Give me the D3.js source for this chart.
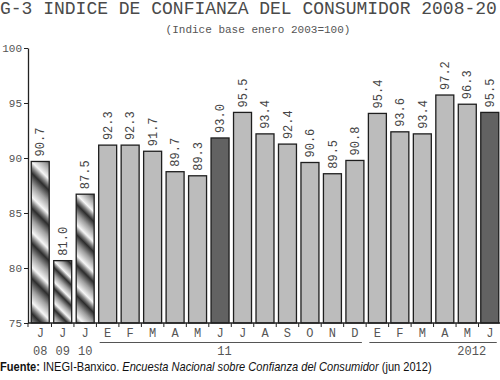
<!DOCTYPE html>
<html>
<head>
<meta charset="utf-8">
<script src="https://cdn.jsdelivr.net/npm/d3@7"></script>
<style>
  body { margin: 0; background: #fff; }
  svg { display: block; }
  .mono { font-family: "Liberation Mono", "DejaVu Sans Mono", monospace; }
  .fuente { font-family: "Liberation Sans Narrow", "Liberation Sans", sans-serif; font-size: 13px; fill: #111; }
</style>
</head>
<body>
<svg id="chart" width="500" height="380"></svg>
<script>
// meses y valores del indice
const meses = ["J", "J", "J", "E", "F", "M", "A", "M", "J", "J", "A", "S", "O", "N", "D", "E", "F", "M", "A", "M", "J"];
const indice = [90.7, 81.0, 87.5, 92.3, 92.3, 91.7, 89.7, 89.3, 93.0, 95.5, 93.4, 92.4, 90.6, 89.5, 90.8, 95.4, 93.6, 93.4, 97.2, 96.3, 95.5];
// tipo de barra: "rayas" para los junios 08-10, "junio" para los junios resaltados
const tipo = ["rayas", "rayas", "rayas", "n", "n", "n", "n", "n", "junio", "n", "n", "n", "n", "n", "n", "n", "n", "n", "n", "n", "junio"];
const anios = ["08", "09", "10", "11", "2012"];
const anioPos = [0, 1, 2, 8.2, 19.2];   // posicion (indice de barra) de cada etiqueta de año
const grupos = [[3, 14], [15, 20]];      // barras subrayadas de 2011 y 2012
const yTicks = [75, 80, 85, 90, 95, 100];

const svg = d3.select("#chart");
const width = 500;
const mTop = 48, mBottom = 323, mLeft = 28;

const x = d3.scaleBand()
    .domain(d3.range(meses.length))
    .range([mLeft + 1, width + 1])
    .paddingInner(0.2)
    .paddingOuter(0.1);

// escala del eje
const yAxisScale = d3.scaleLinear().domain([75, 100]).range([mBottom, mTop]);
// en el original las barras no coinciden con el eje, van en esta otra escala
const y = d3.scaleLinear().domain([74.9, 101.8]).range([mBottom, mTop]);

// titulo
svg.append("text")
    .attr("class", "mono")
    .attr("x", 0).attr("y", 14)
    .attr("font-size", 18)
    .attr("fill", "#4a4a4a")
    .text("G-3 INDICE DE CONFIANZA DEL CONSUMIDOR 2008-20");

svg.append("text")
    .attr("class", "mono")
    .attr("x", 258).attr("y", 33)
    .attr("text-anchor", "middle")
    .attr("font-size", 11)
    .attr("fill", "#555")
    .text("(Indice base enero 2003=100)");

// degradados de rayas diagonales
const defs = svg.append("defs");
indice.forEach((d, i) => {
    if (tipo[i] !== "rayas") return;
    const x0 = x(i), y0 = y(d);
    const p = 12 + (mBottom - y0) / 7;
    const g = defs.append("linearGradient")
        .attr("id", "rayas" + i)
        .attr("gradientUnits", "userSpaceOnUse")
        .attr("spreadMethod", "repeat")
        .attr("x1", x0).attr("y1", y0)
        .attr("x2", x0 + p * 0.5).attr("y2", y0 - p * 0.5);
    [[0, "#f6f6f6"], [0.35, "#a0a0a0"], [0.68, "#2c2c2c"], [0.85, "#8c8c8c"], [1, "#f6f6f6"]]
        .forEach(s => g.append("stop").attr("offset", s[0]).attr("stop-color", s[1]));
});

// barras
svg.append("g").selectAll("rect")
    .data(indice)
    .join("rect")
    .attr("x", (d, i) => x(i))
    .attr("y", d => y(d))
    .attr("width", x.bandwidth())
    .attr("height", d => mBottom - y(d))
    .attr("fill", (d, i) => tipo[i] === "rayas" ? `url(#rayas${i})` : tipo[i] === "junio" ? "#626262" : "#bcbcbc")
    .attr("stroke", "#1e1e1e")
    .attr("stroke-width", 1.3);

// etiquetas de valor
svg.append("g").selectAll("text")
    .data(indice)
    .join("text")
    .attr("class", "mono")
    .attr("transform", (d, i) => `translate(${x(i) + x.bandwidth() / 2},${y(d) - 5}) rotate(-90)`)
    .attr("dy", "0.35em")
    .attr("font-size", 12)
    .attr("fill", "#444")
    .text(d => d.toFixed(1));

// eje y
const yAxis = svg.append("g")
    .attr("transform", `translate(${mLeft},0)`)
    .call(d3.axisLeft(yAxisScale).tickValues(yTicks).tickSize(4).tickPadding(2).tickSizeOuter(0));
yAxis.select(".domain").attr("stroke", "#222").attr("stroke-width", 1.3);
yAxis.selectAll(".tick line").attr("stroke", "#222");
yAxis.selectAll(".tick text")
    .attr("class", "mono")
    .attr("font-size", 11)
    .attr("fill", "#555");

// eje x
const step = x.step();
const cortes = d3.range(meses.length + 1).map(i => i === 0 ? mLeft : x(i - 1) + x.bandwidth() + (step - x.bandwidth()) / 2);
svg.append("line")
    .attr("x1", mLeft).attr("x2", width)
    .attr("y1", mBottom).attr("y2", mBottom)
    .attr("stroke", "#222").attr("stroke-width", 1.3);
svg.append("g").selectAll("line")
    .data(cortes)
    .join("line")
    .attr("x1", d => d).attr("x2", d => d)
    .attr("y1", mBottom).attr("y2", mBottom + 4)
    .attr("stroke", "#222");

svg.append("g").selectAll("text")
    .data(meses)
    .join("text")
    .attr("class", "mono")
    .attr("x", (d, i) => x(i) + x.bandwidth() / 2)
    .attr("y", 337)
    .attr("text-anchor", "middle")
    .attr("font-size", 12)
    .attr("fill", "#555")
    .text(d => d);

svg.append("g").selectAll("line")
    .data(grupos)
    .join("line")
    .attr("x1", d => x(d[0]) + 1)
    .attr("x2", d => x(d[1]) + x.bandwidth() - 2)
    .attr("y1", 342.5).attr("y2", 342.5)
    .attr("stroke", "#555");

svg.append("g").selectAll("text")
    .data(anios)
    .join("text")
    .attr("class", "mono")
    .attr("x", (d, i) => x(0) + anioPos[i] * step + x.bandwidth() / 2)
    .attr("y", 355)
    .attr("text-anchor", "middle")
    .attr("font-size", 12)
    .attr("fill", "#555")
    .text(d => d);

// fuente (letra angosta: se comprime a lo ancho)
const fuente = svg.append("text")
    .attr("class", "fuente")
    .attr("x", 0).attr("y", 371);
fuente.append("tspan").attr("font-weight", "bold").text("Fuente:");
fuente.append("tspan").text(" INEGI-Banxico. ");
fuente.append("tspan").attr("font-style", "italic").text("Encuesta Nacional sobre Confianza del Consumidor");
fuente.append("tspan").text(" (jun 2012)");
const largo = fuente.node().getComputedTextLength();
if (largo > 432) fuente.attr("transform", `scale(${432 / largo},1)`);
</script>
</body>
</html>
